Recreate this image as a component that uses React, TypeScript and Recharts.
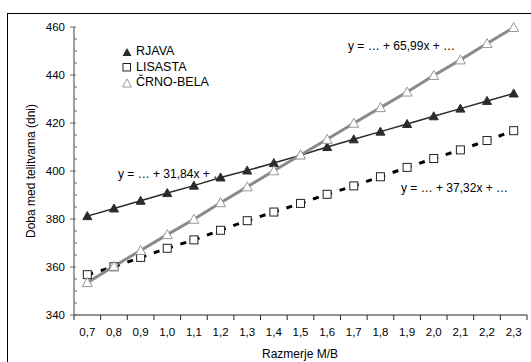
import React from "react";
import { LineChart, Line, XAxis, YAxis, Legend } from "recharts";

const xCats = [0.7, 0.8, 0.9, 1.0, 1.1, 1.2, 1.3, 1.4, 1.5, 1.6, 1.7, 1.8, 1.9, 2.0, 2.1, 2.2, 2.3];
const rjava = [381.2, 384.4, 387.6, 390.8, 393.9, 397.3, 400.2, 403.3, 406.6, 410.0, 413.2, 416.4, 419.6, 422.8, 426.0, 429.2, 432.3];
const lisasta = [356.8, 360.1, 364.0, 367.8, 371.3, 375.3, 379.3, 382.9, 386.5, 390.3, 393.8, 397.6, 401.5, 405.2, 408.8, 412.7, 416.8];
const crnoBela = [353.5, 360.3, 366.9, 373.5, 379.9, 386.8, 393.4, 400.1, 406.7, 413.2, 419.9, 426.4, 432.9, 439.8, 446.3, 453.1, 459.8];

const yTicks = [340, 345, 350, 355, 360, 365, 370, 375, 380, 385, 390, 395, 400, 405, 410, 415, 420, 425, 430, 435, 440, 445, 450, 455, 460];
const yMajor = [340, 360, 380, 400, 420, 440, 460];

const seriesNames = ["RJAVA", "LISASTA", "ČRNO-BELA"];
const trendLabels = ["y = … + 31,84x + …", "y = … + 37,32x + …", "y = … + 65,99x + …"];

const data = xCats.map((x, i) => ({ x, rjava: rjava[i], lisasta: lisasta[i], crno: crnoBela[i] }));

// category boundaries, so tick marks fall between the labels like in Excel
const xTicks: number[] = [];
xCats.forEach((c, i) => {
  xTicks.push(Math.round((c - 0.05) * 100) / 100);
  xTicks.push(c);
  if (i === xCats.length - 1) xTicks.push(Math.round((c + 0.05) * 100) / 100);
});

const FONT = "'Liberation Sans', Arial, sans-serif";

function XTick(props: any) {
  const { x, y, payload } = props;
  const v = payload.value;
  const edge = Math.round(v * 100) % 10 === 5;
  if (edge) return <line x1={x} x2={x} y1={y} y2={y + 5} stroke="#222" />;
  return (
    <text x={x} y={y + 17} textAnchor="middle" dominantBaseline="central" fontSize={11.5} fontFamily={FONT} fill="#000">
      {v.toFixed(1).replace(".", ",")}
    </text>
  );
}

function YTick(props: any) {
  const { x, y, payload } = props;
  const v = payload.value;
  if (yMajor.includes(v)) {
    return (
      <g>
        <line x1={x - 4} x2={x + 2} y1={y} y2={y} stroke="#666" />
        <text x={x - 9} y={y} textAnchor="end" dominantBaseline="central" fontSize={11.5} fontFamily={FONT} fill="#000">
          {v}
        </text>
      </g>
    );
  }
  return <line x1={x} x2={x + 3} y1={y} y2={y} stroke="#666" />;
}

function FilledTri({ cx, cy }: any) {
  if (cx == null || cy == null) return null;
  return <path d={`M${cx},${cy - 4.5} L${cx + 4.5},${cy + 3.5} L${cx - 4.5},${cy + 3.5} Z`} fill="#2b2b2b" stroke="#2b2b2b" />;
}

function HollowTri({ cx, cy }: any) {
  if (cx == null || cy == null) return null;
  return <path d={`M${cx},${cy - 5} L${cx + 5},${cy + 4} L${cx - 5},${cy + 4} Z`} fill="#fff" stroke="#999" />;
}

function HollowSq({ cx, cy }: any) {
  if (cx == null || cy == null) return null;
  return <rect x={cx - 4} y={cy - 4} width={8} height={8} fill="#fff" stroke="#222" />;
}

function LegendBox() {
  const icons = [
    <path d="M5,1 L9.5,9 L0.5,9 Z" fill="#2b2b2b" />,
    <rect x={1} y={1.5} width={7.5} height={7.5} fill="#fff" stroke="#222" />,
    <path d="M5,1 L9.5,9 L0.5,9 Z" fill="#fff" stroke="#999" />,
  ];
  return (
    <div style={{ fontFamily: FONT, fontSize: 12.5, color: "#000", lineHeight: "15.6px" }}>
      {seriesNames.map((n, i) => (
        <div key={n} style={{ display: "flex", alignItems: "center" }}>
          <svg width={10} height={10} style={{ marginRight: 4 }}>
            {icons[i]}
          </svg>
          {n}
        </div>
      ))}
    </div>
  );
}

const note: React.CSSProperties = {
  position: "absolute",
  fontFamily: FONT,
  fontSize: 12,
  color: "#000",
  whiteSpace: "nowrap",
  lineHeight: "14px",
};

export default function App() {
  return (
    <div style={{ position: "absolute", left: 0, top: 0, width: 531, height: 362, overflow: "hidden", background: "#fff" }}>
      <div style={{ position: "absolute", left: 7, top: 13, width: 560, height: 400, border: "1px solid #000" }} />
      <div style={{ ...note, left: 118, top: 167 }}>{trendLabels[0]}</div>
      <div style={{ ...note, left: 401, top: 181 }}>{trendLabels[1]}</div>
      <div style={{ ...note, left: 348, top: 39 }}>{trendLabels[2]}</div>
      <div
        style={{
          position: "absolute",
          left: 31,
          top: 171,
          transform: "translate(-50%, -50%) rotate(-90deg)",
          fontFamily: FONT,
          fontSize: 12,
          whiteSpace: "nowrap",
        }}
      >
        Doba med telitvama (dni)
      </div>
      <div
        style={{
          position: "absolute",
          left: 300,
          top: 354,
          transform: "translate(-50%, -50%)",
          fontFamily: FONT,
          fontSize: 12,
          whiteSpace: "nowrap",
        }}
      >
        Razmerje M/B
      </div>
      <div style={{ position: "absolute", left: 0, top: 0 }}>
        <LineChart width={531} height={362} data={data} margin={{ top: 27, right: 4, bottom: 17, left: 24 }}>
          <XAxis
            dataKey="x"
            type="number"
            domain={[0.65, 2.35]}
            ticks={xTicks}
            interval={0}
            tickSize={0}
            tickMargin={0}
            tick={<XTick />}
            tickLine={false}
            axisLine={{ stroke: "#222" }}
            height={30}
          />
          <YAxis
            type="number"
            domain={[340, 460]}
            ticks={yTicks}
            interval={0}
            tickSize={0}
            tickMargin={0}
            tick={<YTick />}
            tickLine={false}
            axisLine={{ stroke: "#808080", strokeWidth: 1.5 }}
            width={50}
          />
          <Legend
            layout="vertical"
            align="center"
            verticalAlign="middle"
            content={<LegendBox />}
            wrapperStyle={{ left: 122, top: 44, width: "auto" }}
          />
          <Line
            dataKey="lisasta"
            name="LISASTA"
            stroke="none"
            dot={(p: any) => <HollowSq key={`sq${p.index}`} {...p} />}
            isAnimationActive={false}
            legendType="none"
          />
          <Line
            dataKey="lisasta"
            name="LISASTA trend"
            stroke="#000"
            strokeWidth={3}
            strokeDasharray="6 8"
            dot={false}
            isAnimationActive={false}
            legendType="none"
          />
          <Line
            dataKey="rjava"
            name="RJAVA"
            stroke="#2b2b2b"
            strokeWidth={1.5}
            dot={(p: any) => <FilledTri key={`ft${p.index}`} {...p} />}
            isAnimationActive={false}
          />
          <Line
            dataKey="crno"
            name="ČRNO-BELA"
            stroke="#8a8a8a"
            strokeWidth={3}
            dot={(p: any) => <HollowTri key={`ht${p.index}`} {...p} />}
            isAnimationActive={false}
          />
        </LineChart>
      </div>
    </div>
  );
}
